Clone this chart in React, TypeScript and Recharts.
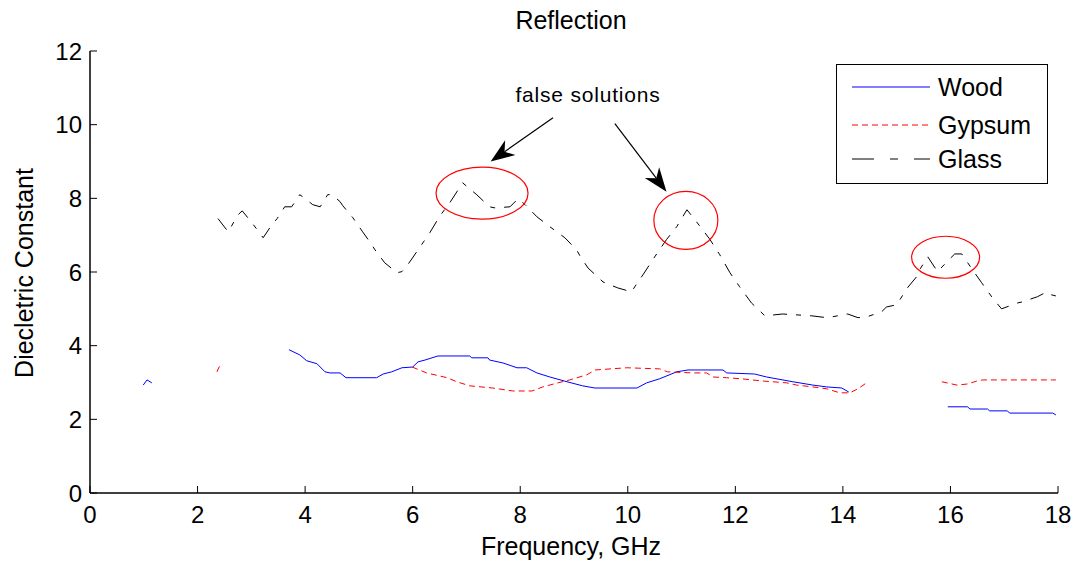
import React from 'react';
import { LineChart, Line, XAxis, YAxis, ReferenceDot, ReferenceLine } from 'recharts';

// tick values
const freqTicks = [0, 2, 4, 6, 8, 10, 12, 14, 16, 18];
const valueTicks = [0, 2, 4, 6, 8, 10, 12];

// Wood (null = no solution)
const woodFreq = [0.99, 1.06, 1.15, 2.0, 3.7, 3.9, 4.03, 4.22, 4.37, 4.46, 4.65, 4.76, 5.33, 5.45, 5.61, 5.8, 6.0, 6.1, 6.23, 6.36, 6.47, 7.06, 7.1, 7.4, 7.43, 7.68, 7.94, 8.12, 8.31, 8.55, 8.87, 9.16, 9.39, 10.17, 10.35, 10.59, 10.91, 11.12, 11.77, 11.84, 12.36, 12.58, 13.07, 13.44, 13.7, 13.98, 14.11, 15.0, 15.95, 16.32, 16.36, 16.69, 16.73, 17.06, 17.1, 17.9, 17.96];
const woodValue = [2.93, 3.07, 2.99, null, 3.89, 3.75, 3.59, 3.51, 3.29, 3.26, 3.26, 3.13, 3.13, 3.23, 3.29, 3.4, 3.42, 3.56, 3.61, 3.67, 3.72, 3.72, 3.67, 3.67, 3.61, 3.53, 3.4, 3.4, 3.26, 3.15, 3.02, 2.91, 2.85, 2.85, 2.99, 3.1, 3.29, 3.34, 3.34, 3.26, 3.23, 3.15, 3.02, 2.93, 2.88, 2.85, 2.74, null, 2.34, 2.34, 2.28, 2.28, 2.23, 2.23, 2.17, 2.17, 2.12];

// Gypsum
const gypsumFreq = [2.36, 2.42, 4.0, 5.99, 6.26, 6.64, 6.82, 7.06, 7.49, 7.86, 8.22, 8.42, 8.7, 8.92, 9.24, 9.39, 9.98, 10.59, 10.74, 11.21, 11.47, 11.58, 11.84, 12.12, 12.51, 12.96, 13.14, 13.44, 13.7, 13.94, 14.13, 14.28, 14.44, 15.0, 15.84, 16.12, 16.32, 16.49, 16.6, 17.9, 17.96];
const gypsumValue = [3.29, 3.48, null, 3.42, 3.26, 3.13, 3.02, 2.91, 2.85, 2.77, 2.77, 2.88, 2.99, 3.07, 3.21, 3.34, 3.4, 3.37, 3.29, 3.26, 3.26, 3.15, 3.13, 3.1, 3.04, 2.99, 2.93, 2.88, 2.83, 2.72, 2.72, 2.83, 2.99, null, 3.02, 2.93, 2.96, 3.04, 3.07, 3.07, 3.07];

// Glass
const glassFreq = [2.38, 2.57, 2.75, 2.83, 3.01, 3.22, 3.38, 3.48, 3.62, 3.75, 3.9, 4.03, 4.14, 4.28, 4.42, 4.5, 4.65, 4.7, 4.89, 5.07, 5.24, 5.3, 5.48, 5.71, 5.8, 5.91, 6.1, 6.32, 6.51, 6.69, 6.93, 7.19, 7.43, 7.53, 7.81, 7.96, 8.09, 8.31, 8.55, 8.83, 9.05, 9.11, 9.26, 9.54, 9.81, 10.07, 10.13, 10.28, 10.5, 10.72, 10.91, 11.1, 11.28, 11.52, 11.71, 11.9, 12.08, 12.3, 12.55, 12.88, 13.42, 13.7, 13.79, 14.09, 14.28, 14.44, 14.72, 14.81, 15.0, 15.2, 15.37, 15.39, 15.58, 15.76, 15.99, 16.08, 16.21, 16.41, 16.58, 16.78, 16.95, 17.25, 17.34, 17.62, 17.79, 17.88, 17.96];
const glassValue = [7.45, 7.09, 7.55, 7.66, 7.34, 6.93, 7.28, 7.45, 7.77, 7.77, 8.1, 7.96, 7.83, 7.77, 8.1, 8.1, 7.91, 7.8, 7.47, 7.09, 6.74, 6.6, 6.25, 5.98, 6.01, 6.2, 6.6, 7.07, 7.53, 7.88, 8.42, 8.1, 7.77, 7.74, 7.77, 7.99, 7.83, 7.5, 7.23, 6.93, 6.6, 6.44, 6.11, 5.73, 5.57, 5.46, 5.6, 5.92, 6.41, 6.88, 7.23, 7.69, 7.36, 6.9, 6.47, 5.98, 5.6, 5.16, 4.81, 4.86, 4.81, 4.76, 4.78, 4.86, 4.76, 4.78, 4.92, 5.05, 5.11, 5.57, 5.87, 5.98, 6.41, 6.01, 6.36, 6.49, 6.49, 6.06, 5.71, 5.3, 5.0, 5.16, 5.19, 5.33, 5.46, 5.38, 5.35];

// annotation anchors (freq, value)
const circleCenters = [
  { f: 7.29, v: 8.14, rx: 46, ry: 26 },
  { f: 11.08, v: 7.4, rx: 32, ry: 29 },
  { f: 15.91, v: 6.4, rx: 34, ry: 21 },
];
const arrowSegments = [
  [{ x: 8.61, y: 10.19 }, { x: 7.45, y: 9.0 }],
  [{ x: 9.76, y: 10.03 }, { x: 10.72, y: 8.18 }],
];
const noteAnchor = { f: 9.26, v: 10.81, text: 'false solutions' };

const wood = woodFreq.map((f, i) => ({ f, v: woodValue[i] }));
const gypsum = gypsumFreq.map((f, i) => ({ f, v: gypsumValue[i] }));
const glass = glassFreq.map((f, i) => ({ f, v: glassValue[i] }));

const FONT = '"Liberation Sans", Arial, Helvetica, sans-serif';
const tickStyle = { fill: '#000', fontSize: 24, fontFamily: FONT };

const Arrow = (props: any) => {
  const { x1, y1, x2, y2 } = props;
  const ang = Math.atan2(y2 - y1, x2 - x1);
  const len = 24;
  const half = 9;
  const bx = x2 - len * Math.cos(ang);
  const by = y2 - len * Math.sin(ang);
  const nx = x2 - (len - 7) * Math.cos(ang);
  const ny = y2 - (len - 7) * Math.sin(ang);
  const px = -Math.sin(ang) * half;
  const py = Math.cos(ang) * half;
  return (
    <g>
      <line x1={x1} y1={y1} x2={nx} y2={ny} stroke="#000" strokeWidth={1.2} />
      <polygon points={`${x2},${y2} ${bx + px},${by + py} ${nx},${ny} ${bx - px},${by - py}`} fill="#000" />
    </g>
  );
};

const Ring = (rx: number, ry: number) => (props: any) => (
  <ellipse cx={props.cx} cy={props.cy} rx={rx} ry={ry} fill="none" stroke="#ff0000" strokeWidth={1.2} />
);

const Note = (text: string) => (props: any) => (
  <text x={props.cx} y={props.cy} textAnchor="middle" dominantBaseline="central" fontSize={21} fontFamily={FONT} letterSpacing={0.8} fill="#000">
    {text}
  </text>
);

const BottomTitle = (props: any) => {
  const { viewBox } = props;
  return (
    <g>
      <text x={viewBox.x + viewBox.width / 2 - 3} y={viewBox.y + 62} textAnchor="middle" fontSize={25} fontFamily={FONT} fill="#000">
        Frequency, GHz
      </text>
      <text x={viewBox.x + viewBox.width / 2 - 3} y={29} textAnchor="middle" fontSize={25} fontFamily={FONT} fill="#000">
        Reflection
      </text>
    </g>
  );
};

const LeftTitle = (props: any) => {
  const { viewBox } = props;
  const cx = 33;
  const cy = viewBox.y + viewBox.height / 2 + 1;
  return (
    <text x={cx} y={cy} transform={`rotate(-90 ${cx} ${cy})`} textAnchor="middle" fontSize={25} fontFamily={FONT} fill="#000">
      Diecletric Constant
    </text>
  );
};

const legendItems = [
  { name: 'Wood', color: '#0000ff', dash: undefined },
  { name: 'Gypsum', color: '#ff0000', dash: '6 4' },
  { name: 'Glass', color: '#000000', dash: '22 16 8 16' },
];

const LegendBox = () => (
  <svg width={212} height={120} style={{ position: 'absolute', left: 836, top: 64 }}>
    <rect x={0.5} y={0.5} width={211} height={119} fill="#fff" stroke="#000" strokeWidth={1} />
    {legendItems.map((it, i) => {
      const y = [23, 61, 95][i];
      return (
        <g key={it.name}>
          <line x1={16} x2={94} y1={y} y2={y} stroke={it.color} strokeWidth={1} strokeDasharray={it.dash} />
          <text x={102} y={y + 9} fontSize={25} fontFamily={FONT} fill="#000">
            {it.name}
          </text>
        </g>
      );
    })}
  </svg>
);

export default function App() {
  return (
    <div style={{ position: 'absolute', left: 0, top: 0, width: 1081, height: 566, background: '#fff' }}>
      <LineChart width={1081} height={566} margin={{ top: 51, right: 23, bottom: 33, left: 30 }}>
        <XAxis
          dataKey="f"
          type="number"
          domain={[0, 18]}
          ticks={freqTicks}
          allowDataOverflow
          height={40}
          tickSize={-7}
          tickMargin={20}
          tick={tickStyle}
          axisLine={{ stroke: '#000', strokeWidth: 1.5 }}
          tickLine={{ stroke: '#000' }}
          label={<BottomTitle />}
        />
        <XAxis
          xAxisId="top"
          orientation="top"
          type="number"
          domain={[0, 18]}
          ticks={freqTicks}
          allowDataOverflow
          height={0}
          tickSize={-7}
          tick={false}
          axisLine={{ stroke: '#000', strokeWidth: 1.2 }}
          tickLine={{ stroke: '#000' }}
        />
        <YAxis
          type="number"
          domain={[0, 12]}
          ticks={valueTicks}
          allowDataOverflow
          width={60}
          tickSize={-7}
          tickMargin={15}
          tick={tickStyle}
          axisLine={{ stroke: '#000', strokeWidth: 1.5 }}
          tickLine={{ stroke: '#000' }}
          label={<LeftTitle />}
        />
        <YAxis
          yAxisId="right"
          orientation="right"
          type="number"
          domain={[0, 12]}
          ticks={valueTicks}
          allowDataOverflow
          width={0}
          tickSize={-7}
          tick={false}
          axisLine={{ stroke: '#000', strokeWidth: 1.5 }}
          tickLine={{ stroke: '#000' }}
        />
        <Line data={wood} dataKey="v" name="Wood" stroke="#0000ff" strokeWidth={1} dot={false} connectNulls={false} isAnimationActive={false} />
        <Line data={gypsum} dataKey="v" name="Gypsum" stroke="#ff0000" strokeWidth={1} strokeDasharray="6 4" dot={false} connectNulls={false} isAnimationActive={false} />
        <Line data={glass} dataKey="v" name="Glass" stroke="#000" strokeWidth={1} strokeDasharray="14 9 5 9" dot={false} connectNulls={false} isAnimationActive={false} />
        {circleCenters.map((c, i) => (
          <ReferenceDot key={'c' + i} x={c.f} y={c.v} r={1} shape={Ring(c.rx, c.ry)} />
        ))}
        {arrowSegments.map((s, i) => (
          <ReferenceLine key={'a' + i} segment={s} shape={Arrow} />
        ))}
        <ReferenceDot x={noteAnchor.f} y={noteAnchor.v} r={1} shape={Note(noteAnchor.text)} />
      </LineChart>
      <LegendBox />
    </div>
  );
}
